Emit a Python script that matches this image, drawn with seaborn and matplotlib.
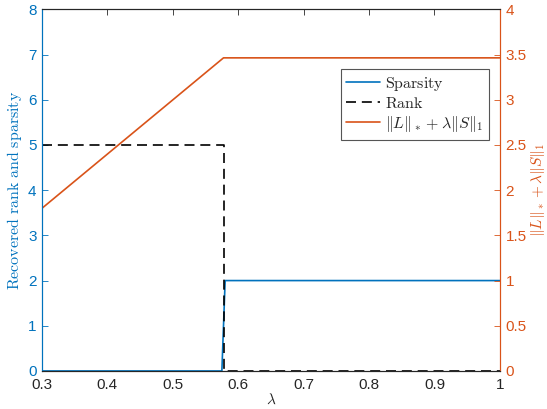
import matplotlib
matplotlib.use("Agg")
import matplotlib.pyplot as plt
import seaborn as sns

# data
sparsity_lam = [0.3, 0.575, 0.58, 1.0]
sparsity_val = [0, 0, 2, 2]
rank_lam = [0.3, 0.5775, 0.5775, 1.0]
rank_val = [5, 5, 0, 0]
obj_lam = [0.3, 0.5775, 1.0]
obj_val = [1.8, 3.464, 3.464]

x_ticks = [0.3, 0.4, 0.5, 0.6, 0.7, 0.8, 0.9, 1.0]
x_ticklabels = ["0.3", "0.4", "0.5", "0.6", "0.7", "0.8", "0.9", "1"]
left_ticks = [0, 1, 2, 3, 4, 5, 6, 7, 8]
right_ticks = [0, 0.5, 1, 1.5, 2, 2.5, 3, 3.5, 4]
right_ticklabels = ["0", "0.5", "1", "1.5", "2", "2.5", "3", "3.5", "4"]

blue = "#0072BD"
orange = "#D95319"
dark = "#262626"

sns.set_style("white")
plt.rcParams["font.family"] = ["Liberation Sans", "DejaVu Sans"]
plt.rcParams["mathtext.fontset"] = "cm"

fig = plt.figure(figsize=(5.47, 4.09), dpi=100)
ax = fig.add_axes([0.0768, 0.093, 0.837, 0.884])
ax2 = ax.twinx()

sns.lineplot(x=sparsity_lam, y=sparsity_val, ax=ax, color=blue, lw=1.2,
             estimator=None, sort=False, label=r"$\mathrm{Sparsity}$", legend=False)
sns.lineplot(x=rank_lam, y=rank_val, ax=ax, color="black", lw=1.2,
             estimator=None, sort=False, label=r"$\mathrm{Rank}$", legend=False)
ax.lines[-1].set_dashes([6, 3.5])
sns.lineplot(x=obj_lam, y=obj_val, ax=ax2, color=orange, lw=1.2,
             estimator=None, sort=False,
             label=r"$\Vert L\Vert_* + \lambda\Vert S\Vert_1$", legend=False)

ax.set_xlim(0.3, 1.0)
ax.set_ylim(0, 8)
ax2.set_ylim(0, 4)
ax.set_xticks(x_ticks)
ax.set_xticklabels(x_ticklabels)
ax.set_yticks(left_ticks)
ax2.set_yticks(right_ticks)
ax2.set_yticklabels(right_ticklabels)

ax.tick_params(axis="x", direction="in", top=True, length=4, width=0.6,
               colors=dark, labelsize=11, pad=5)
ax.tick_params(axis="y", direction="in", length=4, width=0.6,
               colors=blue, labelsize=11, pad=4)
ax2.tick_params(axis="y", direction="in", length=4, width=0.6,
                colors=orange, labelsize=11, pad=4)

for a in (ax, ax2):
    a.spines["top"].set_color(dark)
    a.spines["bottom"].set_color(dark)
    a.spines["left"].set_color(blue)
    a.spines["right"].set_color(orange)
    for s in a.spines.values():
        s.set_linewidth(0.8)

ax.set_xlabel(r"$\lambda$", fontsize=11, color=dark, labelpad=0)
ax.set_ylabel(r"$\mathrm{Recovered\ rank\ and\ sparsity}$", fontsize=11.5,
              color=blue, labelpad=3)
ax2.set_ylabel(r"$\Vert L\Vert_* + \lambda\Vert S\Vert_1$", fontsize=11,
               color=orange, labelpad=2)

handles = ax.get_lines()[:2] + ax2.get_lines()[:1]
labels = [h.get_label() for h in handles]
leg = ax2.legend(handles, labels, loc="upper right",
                 bbox_to_anchor=(0.976, 0.835), fontsize=11.5, frameon=True,
                 fancybox=False, framealpha=1, edgecolor="#555555",
                 handlelength=2.1, handletextpad=0.3, borderpad=0.35,
                 labelspacing=0.2, borderaxespad=0)
leg.get_frame().set_linewidth(0.8)

fig.savefig("out.png", dpi=100)
